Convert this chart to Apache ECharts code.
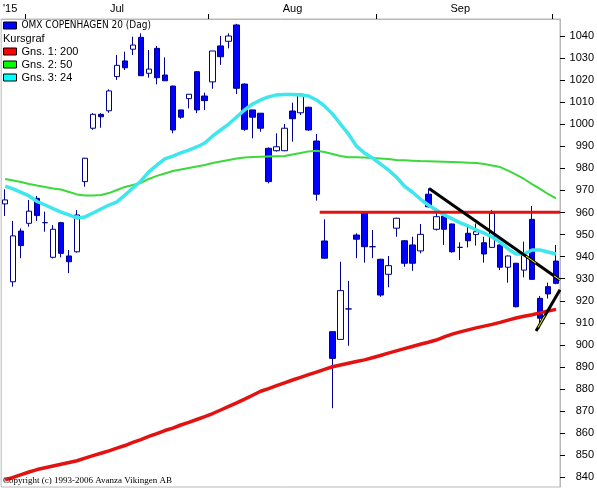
<!DOCTYPE html>
<html><head><meta charset="utf-8">
<script src="https://cdn.jsdelivr.net/npm/echarts@6/dist/echarts.min.js"></script>
<style>html,body{margin:0;padding:0;background:#fff}#c{width:597px;height:488px}</style>
</head><body><div id="c"></div>
<script>
const dates = [
'2015-06-26','2015-06-29','2015-06-30',
'2015-07-01','2015-07-02','2015-07-03','2015-07-06','2015-07-07','2015-07-08','2015-07-09','2015-07-10','2015-07-13','2015-07-14','2015-07-15','2015-07-16','2015-07-17','2015-07-20','2015-07-21','2015-07-22','2015-07-23','2015-07-24','2015-07-27','2015-07-28','2015-07-29','2015-07-30','2015-07-31',
'2015-08-03','2015-08-04','2015-08-05','2015-08-06','2015-08-07','2015-08-10','2015-08-11','2015-08-12','2015-08-13','2015-08-14','2015-08-17','2015-08-18','2015-08-19','2015-08-20','2015-08-21','2015-08-24','2015-08-25','2015-08-26','2015-08-27','2015-08-28','2015-08-31',
'2015-09-01','2015-09-02','2015-09-03','2015-09-04','2015-09-07','2015-09-08','2015-09-09','2015-09-10','2015-09-11','2015-09-14','2015-09-15','2015-09-16','2015-09-17','2015-09-18','2015-09-21','2015-09-22','2015-09-23','2015-09-24','2015-09-25','2015-09-28','2015-09-29','2015-09-30',
'2015-10-01'];

// [open, close, low, high]
const candles = [
[963.9,965.7,958.4,970.5],[928.6,949.4,926.4,956.2],[951.6,945.0,939.3,952.8],[955.1,960.6,953.6,965.7],
[966.4,958.6,956.2,967.5],[955.4,955.4,951.3,960.4],[939.7,952.4,939.2,954.3],[955.4,941.5,939.7,955.8],
[940.3,937.7,932.5,943.0],[942.2,958.9,941.8,961.1],[974.0,984.6,971.7,984.8],[998.2,1004.5,997.5,1005.0],
[1004.5,1003.4,998.4,1005.0],[1006.1,1015.1,1005.2,1015.8],[1021.6,1026.7,1020.1,1031.4],[1028.7,1025.6,1024.6,1032.9],
[1034.0,1035.9,1031.4,1039.7],[1039.4,1022.0,1022.0,1041.2],[1023.1,1025.0,1021.1,1033.7],[1034.4,1021.1,1018.1,1035.5],
[1022.3,1019.7,1019.7,1030.3],[1017.3,997.4,995.9,1017.5],[1006.5,1003.2,1002.5,1006.5],[1011.6,1013.6,1007.2,1013.6],
[1023.8,1006.5,1005.0,1024.1],[1012.8,1010.7,1006.5,1014.3],[1019.2,1033.2,1016.1,1033.2],[1035.5,1030.6,1026.9,1040.0],
[1037.6,1040.0,1034.4,1041.2],[1045.0,1016.3,1013.7,1045.5],[1018.2,997.7,997.0,1018.5],[1006.5,1003.2,993.6,1006.5],
[1005.0,998.2,996.6,1005.0],[989.1,974.0,973.2,989.5],[988.0,989.8,987.6,995.9],[988.0,998.2,987.8,1000.1],
[1006.0,1002.5,992.1,1009.8],[1005.2,1013.6,1004.2,1013.8],[1007.7,997.4,997.1,1007.9],[992.4,968.3,965.4,995.6],
[947.1,939.3,939.0,956.9],[906.0,893.9,871.3,906.0],[902.5,924.6,902.3,937.7],[916.3,916.3,899.6,929.0],
[949.8,947.9,939.3,950.6],[960.4,944.5,937.3,960.6],[944.5,944.5,939.3,952.1],[938.8,922.6,921.8,939.0],
[932.0,935.9,926.1,940.3],[952.9,957.4,949.0,957.6],[947.2,937.0,935.4,947.5],[945.3,937.0,933.6,949.0],
[942.6,950.1,941.5,954.8],[968.3,962.6,962.3,971.0],[952.4,958.1,951.8,961.9],[958.4,952.4,945.3,959.0],
[954.8,942.2,941.8,955.0],[944.2,944.2,938.5,946.5],[950.6,947.2,944.2,954.3],[950.0,951.3,945.0,955.0],
[946.3,941.2,937.3,949.0],[944.2,959.6,944.0,961.1],[945.3,935.2,933.9,945.5],[935.2,940.3,928.2,940.5],
[937.0,917.3,917.0,937.2],[933.9,940.7,930.6,946.8],[956.9,929.7,929.5,963.0],[921.1,912.1,907.5,922.2],
[926.4,923.1,921.0,928.2],[938.0,927.9,927.5,945.3]];

const ma200 = [838.8,840.0,841.2,842.4,843.5,844.3,845.1,845.9,846.7,847.5,848.7,849.8,850.9,852.0,853.2,854.4,855.8,857.1,858.5,859.8,
861.2,862.3,863.7,864.9,866.2,867.5,868.9,870.5,872.1,873.7,875.4,877.2,879.0,880.2,881.5,882.8,884.1,885.3,886.5,887.7,
888.9,890.1,890.9,891.7,892.5,893.2,894.2,895.2,896.3,897.3,898.3,899.3,900.3,901.2,902.2,903.6,904.9,905.9,906.8,907.7,
908.5,909.3,910.2,911.2,912.2,913.0,913.7,914.5,915.4,916.1];

const ma50 = [975.2,974.5,973.8,972.9,972.2,971.6,970.9,970.4,969.3,968.2,967.7,967.7,967.9,968.8,970.2,971.6,972.5,973.4,975.2,976.6,
977.7,978.8,979.5,980.2,980.9,981.5,982.4,983.1,983.8,984.5,984.9,985.2,985.3,985.4,985.5,985.6,986.3,987.0,987.7,988.0,
987.4,986.5,985.6,985.0,985.0,984.9,984.7,984.5,984.3,983.8,983.7,983.5,983.3,983.2,983.1,983.0,982.9,982.8,982.6,982.4,
982.0,981.3,980.6,979.0,977.2,975.2,972.9,970.7,968.4,966.4];

const ma24 = [972.0,970.7,969.1,967.5,965.0,963.4,961.8,960.2,958.9,957.5,958.0,959.8,961.6,963.4,964.8,967.9,971.1,974.3,978.4,981.5,
984.3,985.6,987.0,988.3,989.7,991.5,994.7,997.4,1000.1,1003.3,1006.5,1009.2,1011.0,1012.4,1013.3,1013.5,1013.5,1013.3,1012.8,1011.0,
1008.3,1004.7,1000.1,995.6,990.1,987.0,984.7,982.0,979.3,976.1,972.0,969.3,966.1,963.4,961.1,958.9,957.1,955.3,953.9,952.1,
950.7,948.9,946.6,943.5,941.2,941.2,943.0,943.0,942.1,941.2];

// drawn lines: [position in trading-day units, price]
const resistance = [[39.4, 960.1], [69.5, 960.1]];
const trendDown = [[53.1, 970.9], [69.5, 929.4]];
const trendUp = [[66.5, 906.3], [69.5, 925.0]];
// small yellow highlight pieces on the drawn lines
const highlightA = [[65.25, 940.2], [66.5, 937.0]];
const highlightB = [[68.75, 931.3], [69.5, 929.4]];
const highlightC = [[66.75, 907.9], [67.6, 913.3]];

const priceTicks = [840,850,860,870,880,890,900,910,920,930,940,950,960,970,980,990,1000,1010,1020,1030,1040];
const monthLabels = ["'15", 'Jul', 'Aug', 'Sep'];
const seriesNames = ['OMX COPENHAGEN 20 (Dag)', 'Gns. 1: 200', 'Gns. 2: 50', 'Gns. 3: 24'];
const headerText = 'Kursgraf';
const copyrightText = 'Copyright (c) 1993-2006 Avanza Vikingen AB';

const F = "'Liberation Sans', Arial, sans-serif";

const groups = [];
dates.forEach((d, i) => {
  const m = d.slice(0, 7);
  if (!groups.length || groups[groups.length - 1].m !== m) groups.push({ m, start: i, end: i });
  else groups[groups.length - 1].end = i;
});
const monthStarts = groups.slice(1).map(g => g.start - 0.5);
const labelMap = {};
groups.forEach((g, k) => {
  if (k >= monthLabels.length) return;
  if (k === 0) labelMap[g.start] = '{y|' + monthLabels[k] + '}';
  else labelMap[Math.floor((g.start + g.end) / 2)] = monthLabels[k];
});

const chart = echarts.init(document.getElementById('c'), null, { renderer: 'canvas' });
chart.setOption({
  animation: false,
  backgroundColor: '#ffffff',
  title: [
    { text: headerText, left: 3, top: 32, padding: 0,
      textStyle: { fontSize: 11, fontWeight: 'normal', fontFamily: F, color: '#000', lineHeight: 13 } },
    { text: copyrightText, left: 3, top: 475, padding: 0,
      textStyle: { fontSize: 9, fontWeight: 'normal', fontFamily: "'Liberation Serif', 'Times New Roman', serif", color: '#000', lineHeight: 11 } }
  ],
  legend: [
    { left: 3, top: 19, orient: 'vertical', icon: 'rect', itemWidth: 13, itemHeight: 7, itemGap: 0, padding: 0,
      selectedMode: false,
      textStyle: { fontSize: 10, fontFamily: "'DejaVu Sans Condensed', 'Liberation Sans', sans-serif", color: '#000', lineHeight: 13 },
      data: [{ name: seriesNames[0], itemStyle: { color: '#0000ff', borderColor: '#000000', borderWidth: 1 } }] },
    { left: 3, top: 45, orient: 'vertical', icon: 'rect', itemWidth: 13, itemHeight: 7, itemGap: 0, padding: 0,
      selectedMode: false,
      textStyle: { fontSize: 11, fontFamily: F, color: '#000', lineHeight: 13 },
      data: [
        { name: seriesNames[1], itemStyle: { color: '#ff0000', borderColor: '#000000', borderWidth: 1 } },
        { name: seriesNames[2], itemStyle: { color: '#00ff00', borderColor: '#000000', borderWidth: 1 } },
        { name: seriesNames[3], itemStyle: { color: '#00ffff', borderColor: '#000000', borderWidth: 1 } }
      ] }
  ],
  grid: { left: 1, right: 36, top: 19, bottom: 1, show: true, borderColor: '#b8b8b8', borderWidth: 1, backgroundColor: '#ffffff' },
  xAxis: [
    { type: 'category', data: dates, position: 'top', boundaryGap: true,
      axisLine: { show: true, onZero: false, lineStyle: { color: '#b8b8b8' } },
      axisTick: { show: false },
      axisLabel: { interval: (i) => labelMap[i] !== undefined, formatter: (v, i) => labelMap[i] || '',
        margin: 5, color: '#000', fontSize: 11, fontFamily: F,
        rich: { y: { padding: [0, 0, 0, 10], fontSize: 11, fontFamily: F, color: '#000' } } },
      splitLine: { show: false } },
    { type: 'value', min: -0.5, max: 69.5, position: 'top', gridIndex: 0,
      axisLine: { show: false, onZero: false },
      axisTick: { show: true, customValues: monthStarts, length: 5, lineStyle: { color: '#000' } },
      axisLabel: { show: false },
      splitLine: { show: false } }
  ],
  yAxis: { type: 'value', position: 'right', min: 835.6, max: 1047.7,
    axisLine: { show: true, onZero: false, lineStyle: { color: '#b8b8b8' } },
    axisTick: { show: true, customValues: priceTicks, length: 5, lineStyle: { color: '#000' } },
    axisLabel: { customValues: priceTicks, formatter: (v) => String(v), align: 'right', margin: 34, color: '#000', fontSize: 11, fontFamily: F },
    splitLine: { show: false } },
  series: [
    { name: seriesNames[0], type: 'candlestick', data: candles, barWidth: 6, z: 2,
      itemStyle: { color: '#ffffff', color0: '#0000ff', borderColor: '#00008b', borderColor0: '#00008b', borderWidth: 1 } },
    { name: seriesNames[1], type: 'line', data: ma200, symbol: 'none', z: 3,
      lineStyle: { color: '#e41111', width: 3.5 }, itemStyle: { color: '#ff0000' } },
    { name: seriesNames[2], type: 'line', data: ma50, symbol: 'none', z: 3,
      lineStyle: { color: '#3cd83c', width: 2 }, itemStyle: { color: '#00ff00' } },
    { name: seriesNames[3], type: 'line', data: ma24, symbol: 'none', z: 3,
      lineStyle: { color: '#3ee6ee', width: 3.5 }, itemStyle: { color: '#00ffff' } },
    { name: 'resistance', type: 'line', xAxisIndex: 1, data: resistance, symbol: 'none', z: 4,
      lineStyle: { color: '#e41111', width: 3 } },
    { name: 'trendDown', type: 'line', xAxisIndex: 1, data: trendDown, symbol: 'none', z: 5,
      lineStyle: { color: '#000000', width: 3 } },
    { name: 'trendUp', type: 'line', xAxisIndex: 1, data: trendUp, symbol: 'none', z: 5,
      lineStyle: { color: '#000000', width: 3 } },
    { name: 'hlA', type: 'line', xAxisIndex: 1, data: highlightA, symbol: 'none', z: 6,
      lineStyle: { color: '#ffff00', width: 1 } },
    { name: 'hlB', type: 'line', xAxisIndex: 1, data: highlightB, symbol: 'none', z: 6,
      lineStyle: { color: '#ffff00', width: 1 } },
    { name: 'hlC', type: 'line', xAxisIndex: 1, data: highlightC, symbol: 'none', z: 6,
      lineStyle: { color: '#ffff00', width: 1 } }
  ]
});
</script>
</body></html>
